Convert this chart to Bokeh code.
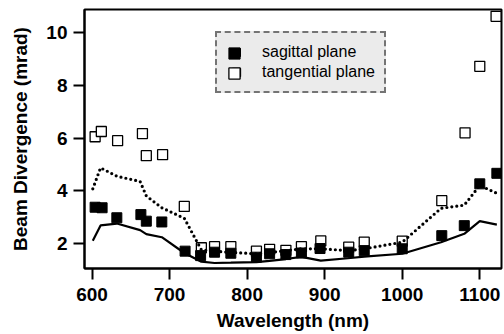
from bokeh.plotting import figure
from bokeh.models import Range1d, Legend, LegendItem, FixedTicker
from bokeh.embed import file_html
from bokeh.resources import INLINE

# Measured points
sag_wl = [604, 613, 632, 663, 670, 690, 720, 740, 758, 779, 812, 829, 850, 870, 894, 931, 951, 1000, 1051, 1080, 1100, 1122]
sag_div = [3.37, 3.35, 2.97, 3.09, 2.84, 2.81, 1.70, 1.53, 1.66, 1.62, 1.47, 1.60, 1.57, 1.63, 1.80, 1.66, 1.72, 1.79, 2.29, 2.67, 4.26, 4.66]

tan_wl = [604, 612, 633, 665, 670, 691, 719, 741, 758, 779, 812, 829, 850, 870, 895, 931, 951, 1000, 1051, 1081, 1100, 1121]
tan_div = [6.05, 6.25, 5.90, 6.17, 5.33, 5.37, 3.40, 1.83, 1.87, 1.87, 1.70, 1.77, 1.73, 1.87, 2.09, 1.85, 2.04, 2.08, 3.62, 6.20, 8.73, 10.63]

# Model curves
line_wl = [601, 611, 632, 662, 670, 690, 719, 741, 758, 779, 812, 829, 850, 870, 895, 930, 951, 1000, 1050, 1080, 1100, 1122]
solid_div = [2.10, 2.68, 2.75, 2.50, 2.35, 2.23, 1.63, 1.30, 1.25, 1.26, 1.28, 1.33, 1.40, 1.48, 1.34, 1.43, 1.49, 1.60, 2.04, 2.36, 2.84, 2.71]
dotted_div = [4.07, 4.87, 4.55, 4.35, 3.80, 3.35, 2.95, 1.75, 1.70, 1.65, 1.60, 1.65, 1.72, 1.79, 1.79, 1.72, 1.79, 2.04, 3.33, 3.45, 4.20, 3.90]

x_ticks = [600, 700, 800, 900, 1000, 1100]
y_ticks = [2, 4, 6, 8, 10]

p = figure(width=504, height=334, output_backend="svg", toolbar_location=None,
           x_range=Range1d(590.3, 1128), y_range=Range1d(1.04, 10.89),
           min_border_left=84, min_border_right=3, min_border_top=9, min_border_bottom=66)

p.xgrid.visible = False
p.ygrid.visible = False
p.outline_line_color = "black"
p.outline_line_width = 2
p.background_fill_color = "white"
p.border_fill_color = "white"

for ax, ticks in ((p.xaxis[0], x_ticks), (p.yaxis[0], y_ticks)):
    ax.ticker = FixedTicker(ticks=ticks)
    ax.minor_tick_line_color = None
    ax.major_tick_in = 0
    ax.major_tick_out = 11
    ax.major_tick_line_width = 2
    ax.axis_line_width = 2
    ax.major_label_text_font = "Liberation Sans"
    ax.major_label_text_font_style = "bold"
    ax.major_label_text_font_size = "19px"
    ax.major_label_text_color = "black"
    ax.axis_label_text_font = "Liberation Sans"
    ax.axis_label_text_font_style = "bold"
    ax.axis_label_text_font_size = "19px"
    ax.axis_label_text_color = "black"

p.xaxis.axis_label = "Wavelength (nm)"
p.yaxis.axis_label = "Beam Divergence (mrad)"
p.xaxis.major_label_standoff = 8
p.yaxis.major_label_standoff = 6
p.xaxis.axis_label_standoff = 6
p.yaxis.axis_label_standoff = 12

r_tan = p.scatter(tan_wl, tan_div, marker="square", size=10, fill_color="white",
                  line_color="black", line_width=1.3)
r_sag = p.scatter(sag_wl, sag_div, marker="square", size=10, fill_color="black",
                  line_color="black", line_width=1)
p.line(line_wl, solid_div, line_color="black", line_width=2.2)
p.line(line_wl, dotted_div, line_color="black", line_width=3.2, line_dash="0 5", line_cap="round")

legend = Legend(items=[LegendItem(label="sagittal plane", renderers=[r_sag]),
                       LegendItem(label="tangential plane", renderers=[r_tan])],
                location=(131, 175), orientation="vertical",
                glyph_width=20, glyph_height=20, label_height=20, spacing=0,
                padding=9, label_standoff=16, margin=0,
                label_text_font="Liberation Sans", label_text_font_size="16px",
                label_text_color="black",
                background_fill_color="#ebebeb", background_fill_alpha=1,
                border_line_color="black", border_line_dash="2 1", border_line_width=2)
p.add_layout(legend, "center")

# larger legend swatches drawn over the default ones
for rend, ypos in ((r_sag, 201), (r_tan, 181)):
    sw = Legend(items=[LegendItem(label=" ", renderers=[rend])],
                location=(136, ypos), orientation="vertical",
                glyph_width=28, glyph_height=28, label_height=20, spacing=0,
                padding=0, label_standoff=0, margin=0,
                label_text_font_size="1px",
                background_fill_alpha=0, border_line_color=None)
    p.add_layout(sw, "center")

open("out.html", "w").write(file_html(p, INLINE))
